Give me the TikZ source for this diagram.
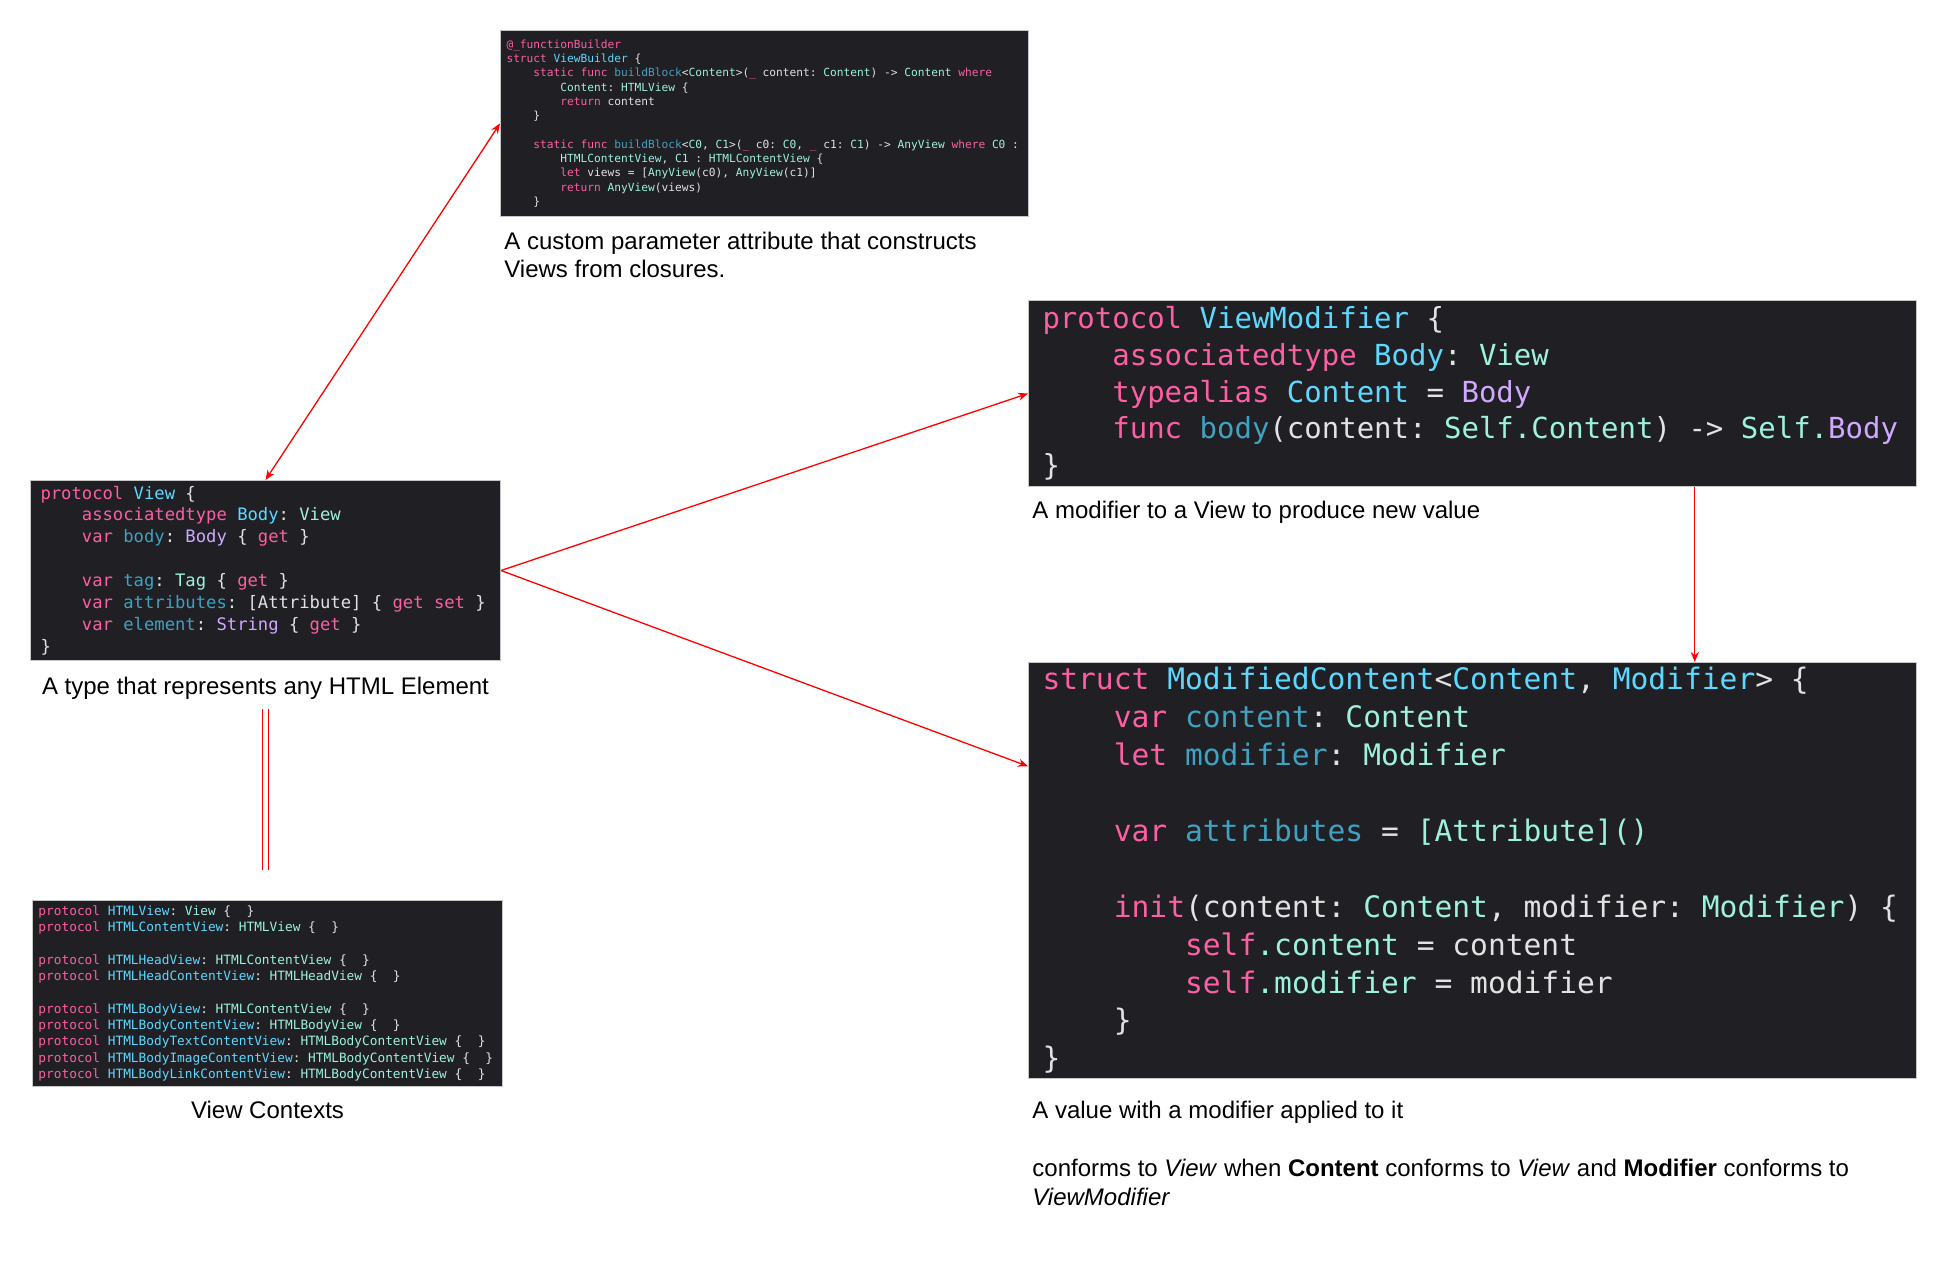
\documentclass[tikz,border=0pt]{standalone}
\usepackage{fontspec}
\setmainfont{Liberation Sans}
\newfontfamily\codefont{DejaVu Sans Mono}
\usetikzlibrary{arrows.meta, positioning, calc}
\definecolor{codebg}{HTML}{1F1F24}
\definecolor{codetxt}{HTML}{E2E2E3}
\definecolor{swkw}{HTML}{FC5FA3}
\definecolor{swtype}{HTML}{5DD8FF}
\definecolor{swdecl}{HTML}{41A1C0}
\definecolor{swproj}{HTML}{9EF1DD}
\definecolor{swsys}{HTML}{D0A8FF}
\newcommand\ckw[1]{\textcolor{swkw}{#1}}
\newcommand\ctype[1]{\textcolor{swtype}{#1}}
\newcommand\cdecl[1]{\textcolor{swdecl}{#1}}
\newcommand\cproj[1]{\textcolor{swproj}{#1}}
\newcommand\csys[1]{\textcolor{swsys}{#1}}
\newcommand\codeind{~~~~}
\newcommand\codesp{\frenchspacing\spaceskip=\fontcharwd\font`M\relax\xspaceskip=\spaceskip}

\begin{document}
\begin{tikzpicture}[
  x=0.5pt, y=-0.5pt,
  redtip/.tip={Stealth[length=5pt, width=4pt]},
  cb/.style={rectangle, fill=codebg, draw=gray!45, line width=0.5pt, anchor=north west, align=left, text=codetxt, inner ysep=1pt},
  lbl/.style={inner sep=0pt, align=left, font=\fontsize{12}{13.7}\selectfont},
  arr/.style={-redtip, red, line width=0.65pt},
  dbl/.style={draw=red, double=white, line width=0.65pt, double distance=2.3pt}
]
\fill[white] (0,0) rectangle (1952,1271);
\node[cb, minimum width=264pt, minimum height=93pt, inner xsep=3pt, text width=258pt, font=\codefont\fontsize{5.6}{7.15}\selectfont] (fb) at (500,30) {\codesp\ckw{@\_functionBuilder}\\
\ckw{struct} \ctype{ViewBuilder} \{\\
\codeind\ckw{static func} \cdecl{buildBlock}<\cproj{Content}>(\ckw{\_} content: \cproj{Content}) -> \cproj{Content} \ckw{where}\\
\codeind\codeind\cproj{Content}: \cproj{HTMLView} \{\\
\codeind\codeind\ckw{return} content\\
\codeind\}\\
\mbox{}\\
\codeind\ckw{static func} \cdecl{buildBlock}<\cproj{C0}, \cproj{C1}>(\ckw{\_} c0: \cproj{C0}, \ckw{\_} c1: \cproj{C1}) -> \cproj{AnyView} \ckw{where} \cproj{C0} :\\
\codeind\codeind\cproj{HTMLContentView}, \cproj{C1} : \cproj{HTMLContentView} \{\\
\codeind\codeind\ckw{let} views = [\cproj{AnyView}(c0), \cproj{AnyView}(c1)]\\
\codeind\codeind\ckw{return} \cproj{AnyView}(views)\\
\codeind\}};
\node[lbl, below=7.5pt of fb.south west, anchor=north west, xshift=2pt] (fl) {A custom parameter attribute that constructs\\Views from closures.};

\node[cb, minimum width=444pt, minimum height=93pt, inner xsep=7pt, text width=430pt, font=\codefont\fontsize{14.5}{18.35}\selectfont] (vm) at (1028,300) {\codesp\ckw{protocol} \ctype{ViewModifier} \{\\
\codeind\ckw{associatedtype} \ctype{Body}: \cproj{View}\\
\codeind\ckw{typealias} \ctype{Content} = \csys{Body}\\
\codeind\ckw{func} \cdecl{body}(content: \cproj{Self.Content}) -> \cproj{Self.}\csys{Body}\\
\}};
\node[lbl, below=6.75pt of vm.south west, anchor=north west, xshift=2pt] (vml) {A modifier to a View to produce new value};

\node[cb, minimum width=235pt, minimum height=90pt, inner xsep=5pt, text width=225pt, font=\codefont\fontsize{8.6}{10.95}\selectfont] (v) at (30,480) {\codesp\ckw{protocol} \ctype{View} \{\\
\codeind\ckw{associatedtype} \ctype{Body}: \cproj{View}\\
\codeind\ckw{var} \cdecl{body}: \csys{Body} \{ \ckw{get} \}\\
\mbox{}\\
\codeind\ckw{var} \cdecl{tag}: \cproj{Tag} \{ \ckw{get} \}\\
\codeind\ckw{var} \cdecl{attributes}: [Attribute] \{ \ckw{get set} \}\\
\codeind\ckw{var} \cdecl{element}: \csys{String} \{ \ckw{get} \}\\
\}};
\node[lbl, below=8pt of v] (vl) {A type that represents any HTML Element};

\node[cb, minimum width=444pt, minimum height=208pt, inner xsep=7pt, text width=430pt, font=\codefont\fontsize{14.8}{18.95}\selectfont] (mc) at (1028,662) {\codesp\ckw{struct} \ctype{ModifiedContent}<\ctype{Content}, \ctype{Modifier}> \{\\
\codeind\ckw{var} \cdecl{content}: \cproj{Content}\\
\codeind\ckw{let} \cdecl{modifier}: \cproj{Modifier}\\
\mbox{}\\
\codeind\ckw{var} \cdecl{attributes} = \cproj{[Attribute]()}\\
\mbox{}\\
\codeind\ckw{init}(content: \cproj{Content}, modifier: \cproj{Modifier}) \{\\
\codeind\codeind\ckw{self}\cproj{.content} = content\\
\codeind\codeind\ckw{self}\cproj{.modifier} = modifier\\
\codeind\}\\
\}};
\node[lbl, below=11pt of mc.south west, anchor=north west, xshift=2pt] (mcl) {A value with a modifier applied to it};
\node[lbl, below=17.5pt of mcl.south west, anchor=north west, font=\fontsize{12}{14.5}\selectfont] (mcn) {conforms to \textit{View} when \textbf{Content} conforms to \textit{View} and \textbf{Modifier} conforms to\\\textit{ViewModifier}};

\node[cb, minimum width=235pt, minimum height=93pt, inner xsep=3pt, text width=229pt, font=\codefont\fontsize{6.4}{8.15}\selectfont] (ctx) at (32,900) {\codesp\ckw{protocol} \ctype{HTMLView}: \cproj{View} \{~~\}\\
\ckw{protocol} \ctype{HTMLContentView}: \cproj{HTMLView} \{~~\}\\
\mbox{}\\
\ckw{protocol} \ctype{HTMLHeadView}: \cproj{HTMLContentView} \{~~\}\\
\ckw{protocol} \ctype{HTMLHeadContentView}: \cproj{HTMLHeadView} \{~~\}\\
\mbox{}\\
\ckw{protocol} \ctype{HTMLBodyView}: \cproj{HTMLContentView} \{~~\}\\
\ckw{protocol} \ctype{HTMLBodyContentView}: \cproj{HTMLBodyView} \{~~\}\\
\ckw{protocol} \ctype{HTMLBodyTextContentView}: \cproj{HTMLBodyContentView} \{~~\}\\
\ckw{protocol} \ctype{HTMLBodyImageContentView}: \cproj{HTMLBodyContentView} \{~~\}\\
\ckw{protocol} \ctype{HTMLBodyLinkContentView}: \cproj{HTMLBodyContentView} \{~~\}};
\node[lbl, below=6.75pt of ctx] (ctxl) {View Contexts};

\draw[arr, redtip-redtip] (v.north) -- (fb.west);
\draw[arr] (v.east) -- (vm.west);
\draw[arr] (v.east) -- ($(mc.north west)!0.25!(mc.south west)$);
\draw[arr] ($(vm.south west)!0.75!(vm.south east)$) -- ($(mc.north west)!0.75!(mc.north east)$);
\draw[dbl, shorten <=4.5pt, shorten >=15pt] (vl.south) -- (vl.south |- ctx.north);
\end{tikzpicture}
\end{document}
